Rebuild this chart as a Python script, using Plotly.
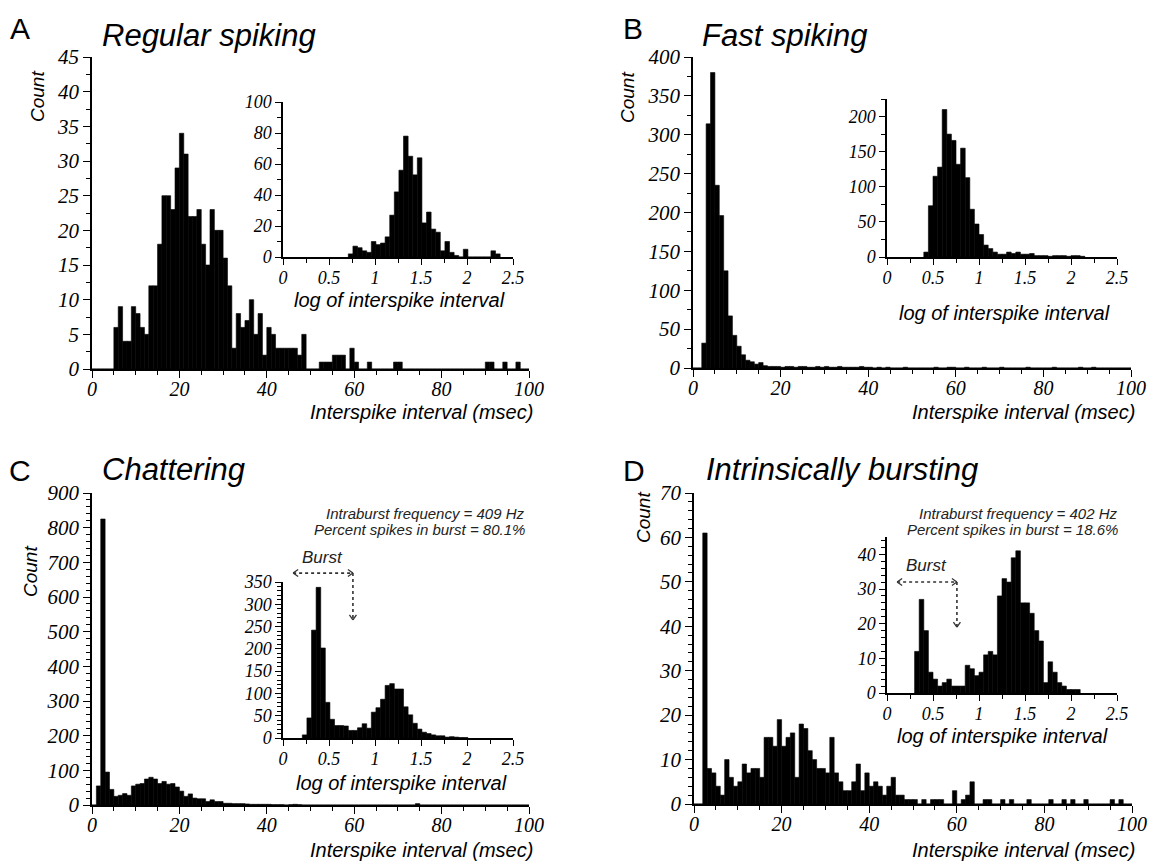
import plotly.graph_objects as go

W, H = 1153, 861
SANS = "Liberation Sans"
SERIF = "Liberation Serif"

# ---------------- data ----------------
main_bin_ms = 1.0      # main histograms: 1 ms bins starting at 0 ms
inset_bin_log = 0.05   # insets: 0.05 log-unit bins

a_main_counts = [0, 0, 0, 0, 0, 6, 9, 4, 4, 9, 8, 6, 5, 12, 12, 18, 25, 25, 23, 29,
                 34, 31, 22, 22, 23, 18, 15, 23, 20, 20, 16, 12, 3, 8, 6, 7, 10, 5, 8, 2,
                 6, 5, 3, 3, 3, 3, 3, 2, 5, 0, 0, 0, 1, 1, 1, 2, 2, 2, 0, 3,
                 1, 0, 0, 1, 0, 0, 0, 0, 0, 1, 1, 0, 0, 0, 0, 0, 0, 0, 0, 0,
                 0, 0, 0, 0, 0, 0, 0, 0, 0, 0, 1, 1, 0, 0, 1, 0, 0, 1, 0, 0]
a_inset_start = 0.71
a_inset_counts = [2, 7, 6, 4, 3, 10, 8, 9, 13, 27, 42, 56, 78, 65, 53, 64, 22, 29, 18, 16,
                  4, 10, 3, 1, 0, 5, 0, 0, 0, 0, 0, 4, 2]

b_main_counts = [0, 0, 32, 314, 380, 235, 196, 125, 67, 42, 28, 17, 10, 8, 5, 7, 3, 2, 2, 2,
                 1, 2, 2, 1, 2, 2, 1, 1, 2, 1, 2, 1, 1, 2, 1, 1, 1, 1, 2, 1,
                 1, 0, 1, 0, 1, 0, 0, 0, 1, 0, 0, 0, 0, 0, 0, 1, 0, 0, 1, 1,
                 0, 0, 1, 0, 0, 0, 1, 0, 0, 0, 1, 0, 0, 0, 0, 0, 1, 0, 0, 0,
                 0, 0, 1, 0, 0, 0, 0, 0, 1, 0, 0, 1, 0, 0, 0, 0, 0, 0, 0, 0]
b_inset_start = 0.40
b_inset_counts = [7, 73, 115, 128, 210, 175, 166, 132, 155, 113, 68, 47, 32, 17, 12, 7, 4, 4,
                  7, 5, 7, 4, 4, 5, 2, 2, 2, 1, 2, 2, 2, 1, 2, 2, 1]

c_main_counts = [0, 55, 825, 95, 45, 25, 28, 33, 28, 55, 60, 62, 75, 80, 75, 62, 68, 60, 62, 52,
                 40, 25, 32, 20, 18, 18, 10, 15, 10, 10, 5, 5, 4, 4, 4, 3, 2, 2, 2, 2,
                 2, 1, 1, 1, 0, 1, 2, 1, 0, 0, 0, 0, 0, 0, 0, 0, 0, 0, 0, 0,
                 0, 0, 0, 0, 0, 0, 0, 0, 0, 0, 0, 0, 0, 0, 4, 0, 0, 0, 0, 0,
                 0, 0, 0, 0, 0, 0, 0, 0, 0, 0, 0, 0, 0, 0, 0, 0, 0, 0, 0, 0]
c_inset_start = 0.21
c_inset_counts = [7, 45, 242, 338, 202, 80, 42, 28, 28, 27, 17, 17, 23, 32, 22, 58, 68, 87,
                  118, 122, 110, 110, 70, 52, 33, 20, 13, 10, 7, 5, 5, 2, 3, 2, 1, 1]

d_main_counts = [0, 0, 61, 8, 7, 4, 2, 10, 6, 4, 5, 9, 7, 8, 8, 6, 15, 15, 13, 19,
                 13, 15, 16, 6, 18, 17, 12, 10, 8, 8, 7, 15, 7, 5, 3, 3, 5, 9, 3, 7,
                 4, 5, 4, 2, 4, 6, 2, 2, 1, 1, 1, 0, 1, 0, 1, 1, 1, 0, 0, 3,
                 0, 1, 2, 5, 0, 0, 1, 1, 0, 0, 1, 0, 1, 0, 0, 0, 1, 0, 0, 0,
                 0, 1, 0, 0, 1, 0, 1, 0, 0, 1, 0, 0, 0, 0, 0, 1, 0, 1, 0, 0]
d_inset_start = 0.30
d_inset_counts = [12, 27, 18, 6, 4, 2, 3, 4, 2, 2, 2, 8, 7, 5, 6, 11, 12, 11, 28, 33, 32, 39,
                  41, 26, 26, 23, 18, 15, 3, 9, 6, 3, 2, 1, 1, 1]

panel_letters = ["A", "B", "C", "D"]
panel_titles = ["Regular spiking", "Fast spiking", "Chattering", "Intrinsically bursting"]
main_ymax = [45, 400, 900, 70]
main_ydtick = [5, 50, 100, 10]
main_yminor = [2.5, 25, 20, 2]
inset_ymax = [100, 225, 350, 45]
inset_ydtick = [20, 50, 50, 10]
inset_yminor = [10, 25, 10, 2]
intraburst_hz = {2: 409, 3: 402}
percent_in_burst = {2: 80.1, 3: 18.6}
burst_left_log = 0.11
burst_threshold_log = 0.76
burst_arrow_y = {2: 370, 3: 32}      # arrow level in inset count units
burst_arrow_end = {2: 265, 3: 19}

# ---------------- geometry (pixels) ----------------
main_px = [dict(x0=92, x1=529, top=57, bot=369),
           dict(x0=693, x1=1131, top=57, bot=368),
           dict(x0=92, x1=529, top=493, bot=805),
           dict(x0=694, x1=1132, top=493, bot=804)]
inset_px = [dict(x0=283, x1=513, top=102, bot=257),
            dict(x0=887, x1=1117, top=99, bot=257),
            dict(x0=283, x1=513, top=582, bot=738),
            dict(x0=887, x1=1117, top=537, bot=693)]


def xdom(g):
    return [g["x0"] / W, g["x1"] / W]


def ydom(g):
    return [1 - g["bot"] / H, 1 - g["top"] / H]


def axis(dom, rng, dtick, minor, fsize, anchor, ticklen=7, standoff=0):
    return dict(domain=dom, range=rng, anchor=anchor, showline=True, linecolor="black",
                linewidth=1.5, ticks="outside", ticklen=ticklen, tickwidth=1.4, tickcolor="black",
                tickmode="linear", tick0=0, dtick=dtick, automargin=False,
                ticklabelstandoff=standoff,
                minor=dict(dtick=minor, tick0=0, ticks="outside", ticklen=4, tickwidth=1.1,
                           tickcolor="black", showgrid=False),
                showgrid=False, zeroline=False, fixedrange=True,
                tickfont=dict(family=SERIF, size=fsize, style="italic", color="black"))


fig = go.Figure()
layout = dict(width=W, height=H, autosize=False,
              margin=dict(l=0, r=0, t=0, b=0, pad=0, autoexpand=False), showlegend=False,
              plot_bgcolor="rgba(0,0,0,0)", paper_bgcolor="white", barmode="overlay")

main_data = [a_main_counts, b_main_counts, c_main_counts, d_main_counts]
inset_data = [(a_inset_start, a_inset_counts), (b_inset_start, b_inset_counts),
              (c_inset_start, c_inset_counts), (d_inset_start, d_inset_counts)]

for p in range(4):
    mi = 2 * p + 1
    ii = 2 * p + 2
    mx, my = ("x" if mi == 1 else f"x{mi}"), ("y" if mi == 1 else f"y{mi}")
    ix, iy = f"x{ii}", f"y{ii}"
    counts = main_data[p]
    fig.add_trace(go.Bar(x=[i * main_bin_ms for i in range(len(counts))], y=counts,
                         width=main_bin_ms, offset=0, xaxis=mx, yaxis=my,
                         marker=dict(color="black", line=dict(color="black", width=0.6))))
    start, icounts = inset_data[p]
    fig.add_trace(go.Bar(x=[start + i * inset_bin_log for i in range(len(icounts))], y=icounts,
                         width=inset_bin_log, offset=0, xaxis=ix, yaxis=iy,
                         marker=dict(color="black", line=dict(color="black", width=0.6))))
    mk = "xaxis" if mi == 1 else f"xaxis{mi}"
    mky = "yaxis" if mi == 1 else f"yaxis{mi}"
    layout[mk] = axis(xdom(main_px[p]), [0, 100], 20, 5, 20, my, standoff=-6)
    layout[mky] = axis(ydom(main_px[p]), [0, main_ymax[p]], main_ydtick[p], main_yminor[p], 21, mx)
    layout[f"xaxis{ii}"] = axis(xdom(inset_px[p]), [0, 2.5], 0.5, 0.25, 18, iy, ticklen=6,
                                standoff=-2)
    layout[f"yaxis{ii}"] = axis(ydom(inset_px[p]), [0, inset_ymax[p]], inset_ydtick[p],
                                inset_yminor[p], 18, ix, ticklen=6)

annotations = []


def add_text(text, px, py, size, xanchor="center", italic=True, family=SANS, angle=0, color="black"):
    annotations.append(dict(text=text, x=px / W, y=1 - py / H, xref="paper", yref="paper",
                            xanchor=xanchor, yanchor="middle", showarrow=False, textangle=angle,
                            font=dict(family=family, size=size, color=color,
                                      style="italic" if italic else "normal")))


letter_pos = [(20, 29), (633, 29), (20, 471), (634, 471)]
title_pos = [(100, 36), (700, 36), (100, 470), (704, 470)]
count_pos = [(38, 97), (628, 97), (30, 572), (643, 517)]
xtitle_pos = [(535, 412), (1137, 412), (535, 850), (1137, 850)]
ititle_pos = [(399, 300), (1004, 313), (401, 783), (1002, 736)]

for p in range(4):
    add_text(panel_letters[p], *letter_pos[p], 30, italic=False)
    add_text(panel_titles[p], *title_pos[p], 31, xanchor="left")
    add_text("Count", *count_pos[p], 19, angle=-90)
    add_text("Interspike interval (msec)", *xtitle_pos[p], 20, xanchor="right")
    add_text("log of interspike interval", *ititle_pos[p], 20)

stats_right = {2: 527, 3: 1120}
burst_label = {2: (322, 557), 3: (926, 565)}
shapes = []


def ipx(p, xv, yv):
    g = inset_px[p]
    px = g["x0"] + (xv / 2.5) * (g["x1"] - g["x0"])
    py = g["bot"] - (yv / inset_ymax[p]) * (g["bot"] - g["top"])
    return px, py


def pline(x0, y0, x1, y1, dash="solid", width=1.3, color="#333"):
    shapes.append(dict(type="line", xref="paper", yref="paper", x0=x0 / W, y0=1 - y0 / H,
                       x1=x1 / W, y1=1 - y1 / H, line=dict(color=color, width=width, dash=dash)))


for p in (2, 3):
    add_text(f"Intraburst frequency = {intraburst_hz[p]} Hz", stats_right[p], 513, 15,
             xanchor="right", color="#222")
    add_text(f"Percent spikes in burst = {percent_in_burst[p]}%", stats_right[p], 529, 15,
             xanchor="right", color="#222")
    add_text("Burst", *burst_label[p], 17, color="#222")
    lx, ly = ipx(p, burst_left_log, burst_arrow_y[p])
    rx, ry = ipx(p, burst_threshold_log, burst_arrow_y[p])
    ex, ey = ipx(p, burst_threshold_log, burst_arrow_end[p])
    pline(lx, ly, rx, ry, dash="dot", width=1.6)
    pline(rx, ry, ex, ey, dash="dot", width=1.6)
    # arrow heads
    pline(lx, ly, lx + 5, ly - 3.5)
    pline(lx, ly, lx + 5, ly + 3.5)
    pline(rx, ry, rx - 5, ry - 3.5)
    pline(rx, ry, rx - 5, ry + 3.5)
    pline(ex, ey, ex - 3.5, ey - 5)
    pline(ex, ey, ex + 3.5, ey - 5)

layout["annotations"] = annotations
layout["shapes"] = shapes
fig.update_layout(**layout)
fig.write_html("out.html")
